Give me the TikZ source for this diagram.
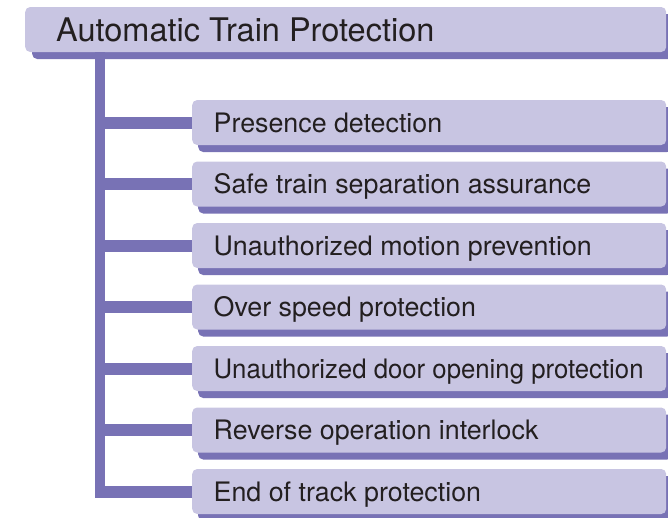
\documentclass[tikz,border=0pt]{standalone}
\usepackage{fontspec}
\setmainfont{TeX Gyre Heros}
\usetikzlibrary{shadows}
\definecolor{boxfill}{HTML}{C8C5E2}
\definecolor{linec}{HTML}{7872B5}
\definecolor{txt}{HTML}{231F20}
\tikzset{
  itembox/.style={fill=boxfill, rounded corners=5pt, anchor=west,
    minimum width=474pt, minimum height=45pt, inner xsep=21.5pt, inner ysep=0pt,
    text height=19.5pt, text depth=0pt, text=txt,
    font=\fontsize{26.8pt}{29pt}\selectfont,
    general shadow={fill=linec, shadow xshift=6pt, shadow yshift=-7pt}},
  titlebox/.style={fill=boxfill, rounded corners=5pt, anchor=west,
    minimum width=641pt, minimum height=45pt, inner xsep=31pt, inner ysep=0pt,
    text height=23pt, text depth=0pt, text=txt,
    font=\fontsize{32.5pt}{35pt}\selectfont,
    general shadow={fill=linec, shadow xshift=7pt, shadow yshift=-7pt}},
  trunk/.style={draw=linec, line width=10pt},
  branch/.style={draw=linec, line width=12pt}
}
\begin{document}
\begin{tikzpicture}[x=1pt,y=-1pt]
\useasboundingbox (0,0) rectangle (668,517);
\node[titlebox] (top) at (25,29.5) {\makebox[579pt][l]{Automatic Train Protection}};
\coordinate (trunktop) at (100,52);
\node[itembox] (c1) at (192,122.5) {\makebox[431pt][l]{Presence detection}};
\node[itembox] (c2) at (192,184) {\makebox[431pt][l]{Safe train separation assurance}};
\node[itembox] (c3) at (192,245.5) {\makebox[431pt][l]{Unauthorized motion prevention}};
\node[itembox] (c4) at (192,307) {\makebox[431pt][l]{Over speed protection}};
\node[itembox] (c5) at (192,368.5) {\makebox[431pt][l]{\scalebox{0.961}[1]{Unauthorized door opening protection}}};
\node[itembox] (c6) at (192,430) {\makebox[431pt][l]{Reverse operation interlock}};
\node[itembox] (c7) at (192,491.5) {\makebox[431pt][l]{End of track protection}};
\coordinate (trunkbot) at (100,497.5);
\draw[trunk] (trunktop) -- (trunkbot);
\foreach \i in {1,...,7} {
  \draw[branch] (c\i.west) -- ([xshift=-5pt]c\i.west -| trunktop);
}
\end{tikzpicture}
\end{document}
